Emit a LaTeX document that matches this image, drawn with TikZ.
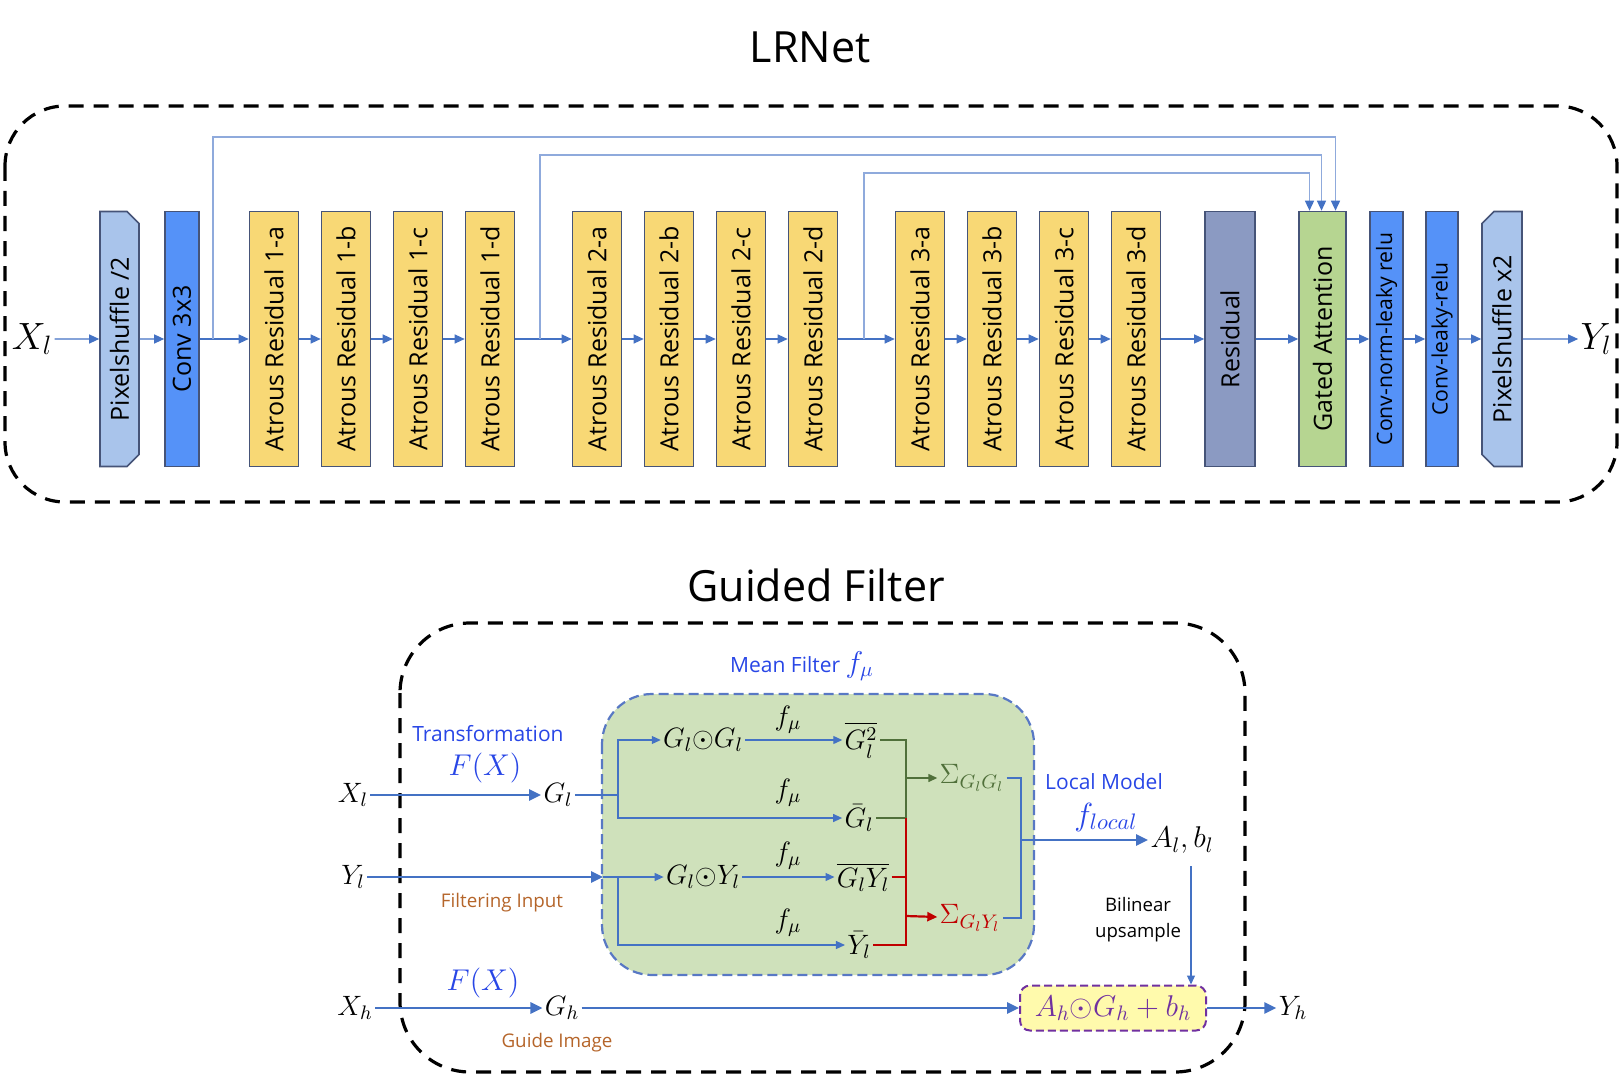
\RequirePackage{fix-cm}
\documentclass[tikz,border=0pt]{standalone}
\usepackage{amsmath}
\usepackage{amssymb}
\usepackage[no-math]{fontspec}
\setmainfont{Open Sans}
\usepackage{tikz}
\usetikzlibrary{positioning, arrows.meta, shapes.misc}
\definecolor{arrowColor}{RGB}{68,114,196}
\definecolor{skipColor}{RGB}{143,170,220}
\definecolor{borderColor}{RGB}{70,84,120}
\definecolor{shuffleColor}{RGB}{169,196,235}
\definecolor{convColor}{RGB}{85,146,248}
\definecolor{atrousColor}{RGB}{248,216,117}
\definecolor{residualColor}{RGB}{139,154,194}
\definecolor{gateColor}{RGB}{182,213,145}
\definecolor{labelBlue}{RGB}{40,70,230}
\definecolor{labelBrown}{RGB}{181,101,42}
\definecolor{meanFill}{RGB}{207,225,187}
\definecolor{meanBorder}{RGB}{88,120,196}
\definecolor{sigmaGreen}{RGB}{80,112,58}
\definecolor{sigmaRed}{RGB}{192,0,0}
\definecolor{modelPurple}{RGB}{112,48,160}
\definecolor{modelFill}{RGB}{255,250,172}
\newcommand{\fsize}[1]{\fontsize{#1}{#1}\selectfont}
\tikzstyle{diagram} = [x = 0.5pt, y = -0.5pt]
\tikzstyle{titleText} = [font = \fsize{21.5pt}]
\tikzstyle{outerFrame} = [draw = black, line width = 1.6pt, dash pattern = on 7.5pt off 5pt]
\tikzstyle{layerStyle} = [draw = borderColor, line width = 0.8pt, inner sep = 0pt, minimum height = 127.5pt, font = \fsize{12.5pt}]
\tikzstyle{shuffleLayer} = [layerStyle, fill = shuffleColor, chamfered rectangle, chamfered rectangle xsep = 2.5pt, chamfered rectangle ysep = 3.5pt]
\tikzstyle{convLayer} = [layerStyle, fill = convColor]
\tikzstyle{atrousLayer} = [layerStyle, fill = atrousColor]
\tikzstyle{residualLayer} = [layerStyle, fill = residualColor]
\tikzstyle{gateLayer} = [layerStyle, fill = gateColor]
\tikzstyle{flow} = [draw = arrowColor, line width = 0.6pt, -{Triangle[length = 5pt, width = 4.5pt]}]
\tikzstyle{skipLine} = [draw = skipColor, line width = 0.7pt, -{Triangle[length = 5pt, width = 4.5pt, color = arrowColor]}]
\tikzstyle{bigMath} = [font = \fsize{19pt}, inner sep = 1pt]
\tikzstyle{mathText} = [font = \fsize{14pt}, inner sep = 1pt]
\tikzstyle{blueText} = [text = labelBlue, font = \fsize{10.5pt}, inner sep = 1pt]
\tikzstyle{brownText} = [text = labelBrown, font = \fsize{9.4pt}, inner sep = 1pt]
\tikzstyle{smallText} = [font = \fontsize{9.3pt}{13pt}\selectfont, align = center, inner sep = 1pt]
\tikzstyle{meanFrame} = [draw = meanBorder, fill = meanFill, line width = 1.1pt, dash pattern = on 5pt off 2.5pt, rounded corners = 25pt]
\tikzstyle{thickFlow} = [draw = arrowColor, line width = 1.3pt, -{Triangle[length = 6pt, width = 5.5pt]}]
\tikzstyle{thinFlow} = [draw = arrowColor, line width = 0.6pt, -{Triangle[length = 4.5pt, width = 4pt]}]
\tikzstyle{thinLine} = [draw = arrowColor, line width = 0.6pt]
\tikzstyle{greenLine} = [draw = sigmaGreen, line width = 0.7pt]
\tikzstyle{redLine} = [draw = sigmaRed, line width = 0.7pt]
\tikzstyle{bracketLine} = [draw = arrowColor, line width = 1.1pt]
\tikzstyle{modelStyle} = [draw = modelPurple, fill = modelFill, text = modelPurple, line width = 1pt, dash pattern = on 4pt off 2pt, rounded corners = 5pt, font = \fsize{15pt}, inner sep = 0pt]
\newcommand{\layer}[5]{\node [#1, minimum width = #3 * 0.5pt] (#2) at (#4, 339) {\rotatebox{90}{#5}};}

\begin{document}
\begin{tikzpicture}[diagram]
  \useasboundingbox (0,0) rectangle (1620,1075);

  \node [titleText] (lrnetTitle) at (810,47) {LRNet};
  \draw [outerFrame, rounded corners = 30pt] (5,106) rectangle (1617,502);

  \node [bigMath] (inLow) at (32,339) {$X_l$};
  \layer{shuffleLayer, chamfered rectangle corners = {north east, south east}}{shuffleIn}{39}{119.5}{Pixelshuffle /2}
  \layer{convLayer}{convIn}{34}{182}{Conv 3x3}
  \foreach \group in {1,2,3} {
    \foreach \idx/\letter in {0/a,1/b,2/c,3/d} {
      \pgfmathsetmacro{\xpos}{274 + 323 * (\group - 1) + 72 * \idx}
      \layer{atrousLayer}{atrous\group\letter}{49}{\xpos}{Atrous Residual \group-\letter}
    }
  }
  \layer{residualLayer}{residual}{50}{1230}{Residual}
  \layer{gateLayer}{gate}{47}{1322.5}{Gated Attention}
  \layer{convLayer, font = \fsize{10.6pt}}{convNorm}{33}{1386.5}{Conv-norm-leaky relu}
  \layer{convLayer, font = \fsize{10.6pt}}{convLeaky}{32}{1442}{Conv-leaky-relu}
  \layer{shuffleLayer, chamfered rectangle corners = {north west, south west}}{shuffleOut}{40}{1502}{Pixelshuffle x2}
  \node [bigMath] (outLow) at (1596,339) {$Y_l$};

  \foreach \from/\to in {inLow/shuffleIn, shuffleIn/convIn, convIn/atrous1a,
      atrous1a/atrous1b, atrous1b/atrous1c, atrous1c/atrous1d, atrous1d/atrous2a,
      atrous2a/atrous2b, atrous2b/atrous2c, atrous2c/atrous2d, atrous2d/atrous3a,
      atrous3a/atrous3b, atrous3b/atrous3c, atrous3c/atrous3d, atrous3d/residual,
      residual/gate, gate/convNorm, convNorm/convLeaky, convLeaky/shuffleOut, shuffleOut/outLow}
    \draw [flow] (\from) -- (\to);

  \coordinate (skipA) at (213,339);
  \coordinate (skipB) at (540,339);
  \coordinate (skipC) at (864,339);
  \draw [skipLine] (skipA) -- ++(0,-202) -| ([xshift = 6.5pt]gate.north);
  \draw [skipLine] (skipB) -- ++(0,-184) -| ([xshift = -0.5pt]gate.north);
  \draw [skipLine] (skipC) -- ++(0,-166) -| ([xshift = -6.5pt]gate.north);

  \node [titleText] (filterTitle) at (816,585) {Guided Filter};
  \draw [outerFrame, rounded corners = 35pt] (400,623) rectangle (1245,1072);
  \draw [meanFrame] (602,694) rectangle (1034,975);

  \node [blueText] (meanLabel) at (802,666) {Mean Filter \fsize{15pt}$f_\mu$};
  \node [blueText] (transLabel) at (488,734) {Transformation};
  \node [mathText, text = labelBlue, font = \fsize{15pt}] (transformLow) at (485,768) {$F(X)$};
  \node [mathText] (xLow) at (353,795) {$X_l$};
  \node [mathText] (gLow) at (558,795) {$G_l$};
  \node [mathText] (yLow) at (353,877) {$Y_l$};
  \node [brownText] (inputLabel) at (502,903) {Filtering Input};

  \node [mathText] (ggProd) at (703,740) {$G_l{\odot}G_l$};
  \node [mathText] (gyProd) at (703,877) {$G_l{\odot}Y_l$};
  \node [mathText] (g2Bar) at (861,740) {$\overline{G_l^2}$};
  \node [mathText] (gBar) at (859,818) {$\bar{G}_l$};
  \node [mathText] (gyBar) at (863,877) {$\overline{G_lY_l}$};
  \node [mathText] (yBar) at (859,945) {$\bar{Y}_l$};
  \foreach \ypos [count = \row] in {720,793,856,923}
    \node [mathText, inner sep = 0pt] (meanOp\row) at (788,\ypos) {$f_\mu$};
  \node [mathText, text = sigmaGreen] (sigmaGG) at (972,778) {$\Sigma_{G_lG_l}$};
  \node [mathText, text = sigmaRed] (sigmaGY) at (970,918) {$\Sigma_{G_lY_l}$};

  \node [blueText] (modelLabel) at (1104,782) {Local Model};
  \node [mathText, text = labelBlue, font = \fsize{16pt}] (localOp) at (1106,817) {$f_{local}$};
  \node [mathText, font = \fsize{15pt}] (abLow) at (1182,840) {$A_l, b_l$};
  \node [smallText] (upLabel) at (1138,920) {Bilinear\\upsample};

  \node [mathText, text = labelBlue, font = \fsize{15pt}] (transformHigh) at (483,983) {$F(X)$};
  \node [mathText] (xHigh) at (355,1008) {$X_h$};
  \node [mathText] (gHigh) at (562,1008) {$G_h$};
  \node [modelStyle, minimum width = 93pt, minimum height = 22.5pt] (modelBox) at (1113,1008) {$A_h{\odot}G_h + b_h$};
  \node [mathText] (yHigh) at (1293,1008) {$Y_h$};
  \node [brownText] (guideLabel) at (557,1043) {Guide Image};

  \draw [thickFlow] (xLow) -- (gLow);
  \coordinate (branchG) at (618,795);
  \draw [thinLine] (gLow) -- (branchG);
  \draw [thinFlow] (branchG) |- (ggProd);
  \draw [thinFlow] (branchG) |- (gBar);
  \coordinate (meanEdge) at (603,877);
  \coordinate (branchY) at (618,877);
  \draw [thickFlow] (yLow) -- (meanEdge);
  \draw [thinLine] (meanEdge) -- (branchY);
  \draw [thinFlow] (branchY) -- (gyProd);
  \draw [thinFlow] (branchY) |- (yBar);
  \draw [thinFlow] (ggProd) -- (g2Bar);
  \draw [thinFlow] (gyProd) -- (gyBar);

  \coordinate (greenJoin) at (906,778);
  \coordinate (redJoin) at (906,916);
  \draw [greenLine] (g2Bar.east) -| (greenJoin |- gBar.east) -- (gBar.east);
  \draw [greenLine, -{Triangle[length = 4.5pt, width = 4pt]}] (greenJoin) -- (sigmaGG);
  \draw [redLine] (greenJoin |- gBar.east) |- (yBar.east);
  \draw [redLine] (gyBar.east) -- (greenJoin |- gyBar.east);
  \draw [redLine, line width = 1.1pt, -{Triangle[length = 5pt, width = 4.5pt]}] (redJoin) -- (sigmaGY);

  \coordinate (bracketX) at (1021,840);
  \draw [bracketLine] (sigmaGG.east) -| (bracketX) |- (sigmaGY.east);
  \draw [thickFlow] (bracketX) -- (abLow);
  \coordinate (upTop) at (1191,866);
  \draw [thinFlow] (upTop) -- (upTop |- modelBox.north);

  \draw [thickFlow] (xHigh) -- (gHigh);
  \draw [thickFlow] (gHigh) -- (modelBox);
  \draw [thickFlow] (modelBox) -- (yHigh);
\end{tikzpicture}
\end{document}
